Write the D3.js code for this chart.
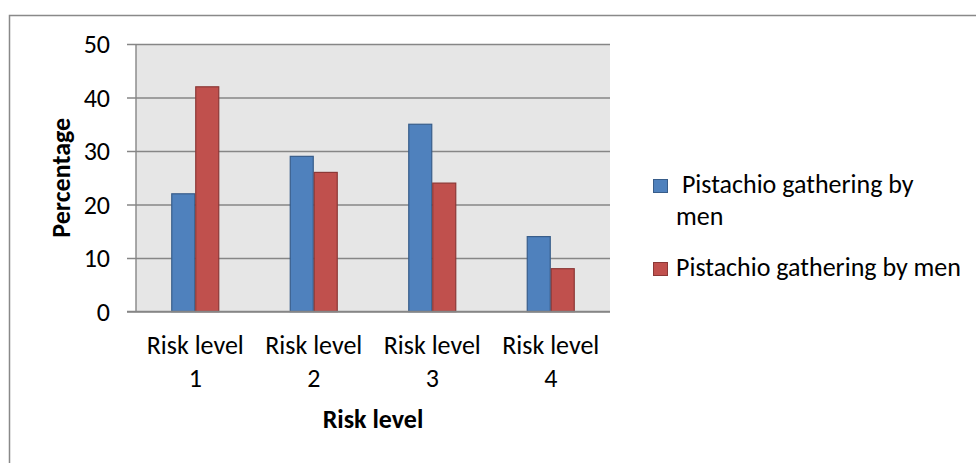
<!DOCTYPE html>
<html>
<head>
<meta charset="utf-8">
<script src="https://cdn.jsdelivr.net/npm/d3@7"></script>
<style>
  html, body { margin: 0; padding: 0; background: #fff; }
  svg { display: block; font-family: Carlito, Lato, "Open Sans", sans-serif; }
</style>
</head>
<body>
<svg id="chart" width="976" height="463"></svg>
<script>
/* ── DATA ── */
const categories = ['Risk level 1', 'Risk level 2', 'Risk level 3', 'Risk level 4'];
const seriesNames = [' Pistachio gathering by men', 'Pistachio gathering by men'];
const menA = [22, 29, 35, 14];
const menB = [42, 26, 24, 8];
const yTicks = [0, 10, 20, 30, 40, 50];

const FILL = ['#4F81BD', '#C0504D'];
const EDGE = ['#385D8A', '#8C3836'];
const GRID = '#868686';
const FS = 26;

(function () {
  const svg = d3.select('#chart');
  const series = [menA, menB];

  // outer chart frame (runs off right and bottom edge)
  svg.append('rect')
    .attr('x', 9.5).attr('y', 15.5).attr('width', 990).attr('height', 470)
    .attr('fill', 'none').attr('stroke', '#898989').attr('stroke-width', 1.5);

  const plot = { left: 136, right: 610, top: 44, bottom: 311.5 };

  const x = d3.scaleBand().domain(categories)
    .range([plot.left, plot.right]).paddingInner(0.595).paddingOuter(0.2975);
  const xs = d3.scaleBand().domain(d3.range(series.length)).range([0, x.bandwidth()]);
  const y = d3.scaleLinear().domain([0, 50]).range([plot.bottom, plot.top]);

  svg.append('rect')
    .attr('x', plot.left).attr('y', plot.top)
    .attr('width', plot.right - plot.left).attr('height', plot.bottom - plot.top)
    .attr('fill', '#E6E6E6');

  // gridlines + ticks
  svg.append('g')
    .attr('transform', `translate(${plot.left},0)`)
    .call(d3.axisLeft(y).tickValues(yTicks).tickSize(-(plot.right - plot.left)).tickFormat(''))
    .call(g => g.select('.domain').remove())
    .call(g => g.selectAll('line').attr('x1', -9).attr('stroke', GRID).attr('stroke-width', 1.4));

  // y axis line
  svg.append('line')
    .attr('x1', plot.left).attr('x2', plot.left)
    .attr('y1', plot.top).attr('y2', plot.bottom)
    .attr('stroke', GRID).attr('stroke-width', 1.4);

  // y tick labels
  svg.append('g').selectAll('text').data(yTicks).join('text')
    .attr('x', 110).attr('y', d => y(d)).attr('dy', '0.35em')
    .attr('text-anchor', 'end').attr('font-size', FS).attr('fill', '#000')
    .text(d => d);

  // bars
  const groups = svg.append('g').selectAll('g').data(categories).join('g')
    .attr('transform', d => `translate(${x(d)},0)`);
  groups.selectAll('rect')
    .data((c, i) => series.map((s, k) => ({ k, v: s[i] })))
    .join('rect')
    .attr('x', d => xs(d.k) + 0.5).attr('width', xs.bandwidth() - 1)
    .attr('y', d => y(d.v)).attr('height', d => y(0) - y(d.v))
    .attr('fill', d => FILL[d.k]).attr('stroke', d => EDGE[d.k]).attr('stroke-width', 1.2);

  // x axis line (drawn over bars' bottoms)
  svg.append('line')
    .attr('x1', plot.left - 9).attr('x2', plot.right)
    .attr('y1', plot.bottom).attr('y2', plot.bottom)
    .attr('stroke', GRID).attr('stroke-width', 1.4);

  // category labels, two lines
  svg.append('g').selectAll('text').data(categories).join('text')
    .attr('x', d => x(d) + x.bandwidth() / 2).attr('y', 354)
    .attr('text-anchor', 'middle').attr('font-size', FS)
    .each(function (d) {
      const parts = d.split(' ');
      const t = d3.select(this);
      t.append('tspan').attr('x', x(d) + x.bandwidth() / 2).text(parts.slice(0, -1).join(' '));
      t.append('tspan').attr('x', x(d) + x.bandwidth() / 2).attr('dy', 32.7).text(parts[parts.length - 1]);
    });

  // axis titles
  svg.append('text')
    .attr('x', (plot.left + plot.right) / 2).attr('y', 428)
    .attr('text-anchor', 'middle').attr('font-size', FS).attr('font-weight', 'bold')
    .text('Risk level');
  svg.append('text')
    .attr('transform', `translate(70,${(plot.top + plot.bottom) / 2}) rotate(-90)`)
    .attr('text-anchor', 'middle').attr('font-size', FS).attr('font-weight', 'bold')
    .text('Percentage');

  // legend with simple word wrap
  const legX = 653, textX = 676, maxW = 288;
  const legTop = [179, 262];
  seriesNames.forEach((name, i) => {
    svg.append('rect')
      .attr('x', legX + 0.5).attr('y', legTop[i] + 0.5).attr('width', 14).attr('height', 13)
      .attr('fill', FILL[i]).attr('stroke', EDGE[i]).attr('stroke-width', 1);
    const t = svg.append('text')
      .attr('x', textX).attr('y', legTop[i] + 14).attr('font-size', FS)
      .style('white-space', 'pre');
    const words = name.split(/(?=\s)/);
    let line = '', lines = [];
    words.forEach(w => {
      const test = line + w;
      t.text(test);
      if (line.trim() && t.node().getComputedTextLength() > maxW) { lines.push(line); line = w.trimStart(); }
      else line = test;
    });
    lines.push(line);
    t.text('');
    lines.forEach((l, j) => t.append('tspan').attr('x', textX).attr('dy', j ? 32 : 0).text(l));
  });
})();
</script>
</body>
</html>
